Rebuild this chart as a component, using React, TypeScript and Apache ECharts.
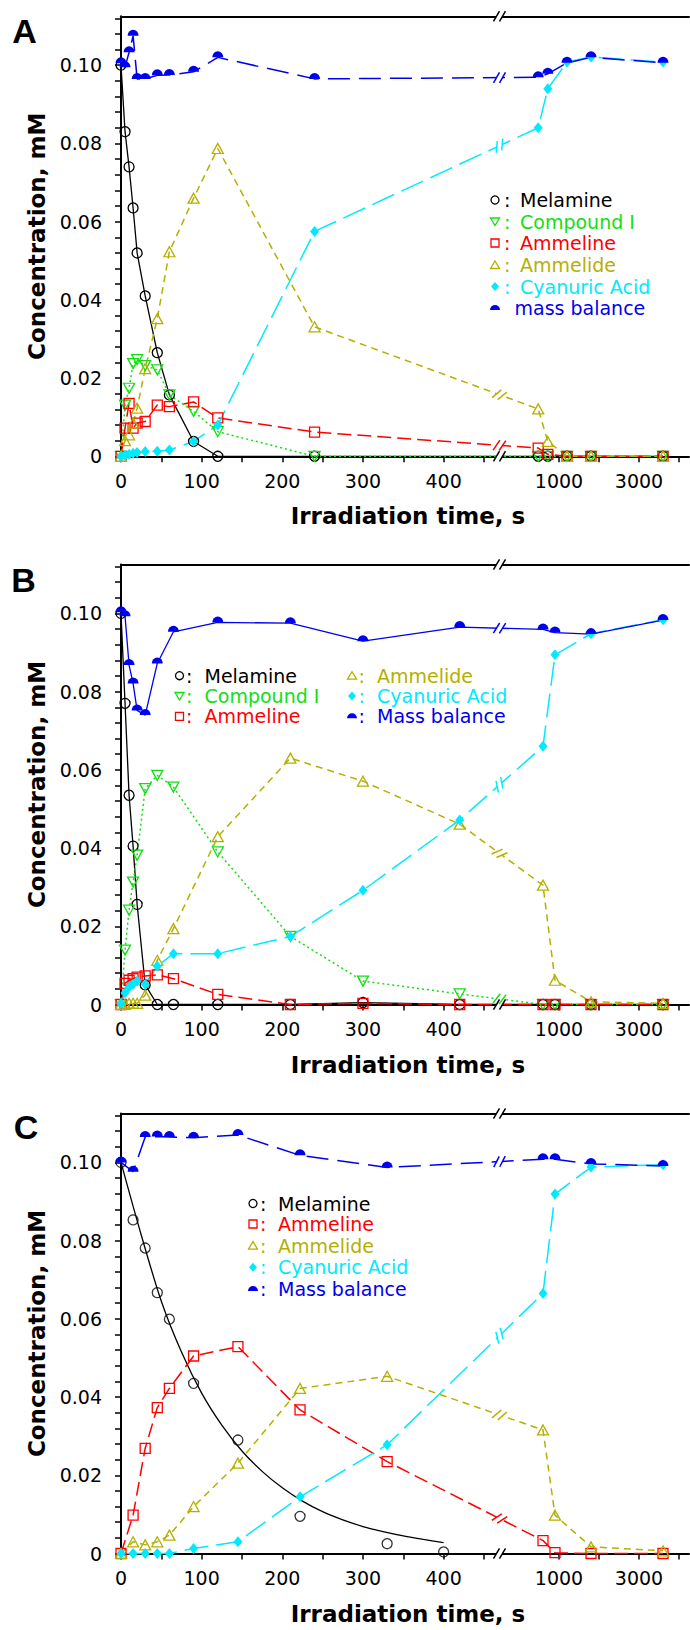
import React, { useEffect, useRef } from "react";
import * as echarts from "echarts";

// ---------------- data ----------------
// Panel A
const timesA = [0, 5, 10, 15, 20, 30, 45, 60, 90, 120, 240, 480, 720, 1200, 1800, 3600];
const melamineA = [0.1, 0.083, 0.074, 0.0635, 0.052, 0.041, 0.0265, 0.0157, 0.0038, 0, 0, 0, 0, 0, 0, 0];
const compoundA = [0, 0.0131, 0.0174, 0.0237, 0.0247, 0.0232, 0.0221, 0.0157, 0.0115, 0.0063, 0, 0, 0, 0, 0, 0];
const ammelineA = [0, 0.0072, 0.0135, 0.0072, 0.0085, 0.0089, 0.0131, 0.0127, 0.0139, 0.0098, 0.0062, 0.0021, 0.0005, 0, 0, 0];
const ammelideA = [0, 0.004, 0.0055, 0.0085, 0.0123, 0.0224, 0.0352, 0.0523, 0.066, 0.0787, 0.0331, 0.0121, 0.0038, 0, 0, 0];
const cyanuricA = [0, 0.0003, 0.0005, 0.0008, 0.001, 0.0012, 0.0013, 0.0016, 0.0038, 0.008, 0.0575, 0.084, 0.094, 0.1008, 0.1021, 0.1008];
const massA = [0.1005, 0.0995, 0.1033, 0.1075, 0.0965, 0.0965, 0.0974, 0.0975, 0.0983, 0.102, 0.0965, 0.0969, 0.0978, 0.1006, 0.102, 0.1006];

// Panel B
const timesB = [0, 5, 10, 15, 20, 30, 45, 65, 120, 210, 300, 420, 600, 900, 1800, 3600];
const melamineB = [0.1, 0.077, 0.0535, 0.0405, 0.0256, 0.005, 0, 0, 0, 0, 0.0005, 0, 0, 0, 0, 0];
const compoundB = [0, 0.0139, 0.0241, 0.0313, 0.0382, 0.0552, 0.0586, 0.0556, 0.039, 0.0174, 0.006, 0.0027, 0, 0, 0, 0];
const ammelineB = [0, 0.0054, 0.0062, 0.0066, 0.007, 0.0073, 0.0076, 0.0066, 0.0026, 0, 0.0003, 0, 0, 0, 0, 0];
const ammelideB = [0, 0, 0.0003, 0.0003, 0.0003, 0.0024, 0.0113, 0.0194, 0.0429, 0.063, 0.0571, 0.0461, 0.0305, 0.0062, 0.0007, 0.0003];
const cyanuricB = [0.0003, 0.003, 0.0045, 0.0052, 0.006, 0.0052, 0.0098, 0.013, 0.013, 0.0174, 0.0292, 0.0472, 0.066, 0.0894, 0.0948, 0.0984];
const massB = [0.1003, 0.0993, 0.0868, 0.0821, 0.0752, 0.074, 0.0872, 0.0953, 0.0977, 0.0975, 0.0929, 0.0965, 0.0959, 0.0951, 0.0947, 0.0983];

// Panel C
const timesC = [0, 15, 30, 45, 60, 90, 145, 222, 330, 600, 900, 1800, 3600];
const melamineTimesC = [0, 15, 30, 45, 60, 90, 145, 222, 330, 400];
const melamineC = [0.1, 0.0853, 0.0781, 0.0667, 0.0599, 0.0435, 0.029, 0.0095, 0.0025, 0.0004];
const ammelineC = [0, 0.0098, 0.0269, 0.0373, 0.0422, 0.0505, 0.0529, 0.0367, 0.0235, 0.0033, 0.0002, 0, 0];
const ammelideC = [0, 0.003, 0.0022, 0.003, 0.0047, 0.012, 0.0231, 0.0422, 0.0453, 0.0316, 0.0098, 0.0017, 0.0007];
const cyanuricC = [0, 0, 0, 0, 0, 0.0013, 0.003, 0.0145, 0.0278, 0.0665, 0.0919, 0.0988, 0.0994];
const massC = [0.1, 0.0976, 0.1065, 0.1066, 0.1065, 0.1063, 0.107, 0.1018, 0.0987, 0.1008, 0.1008, 0.0996, 0.0991];
// fitted melamine decay curve of panel C
const fitTimesC = [0, 25, 50, 75, 100, 125, 150, 175, 200, 225, 250, 275, 300, 325, 350, 375, 400];
const fitC = [0.1, 0.0815, 0.0645, 0.0515, 0.041, 0.0328, 0.0262, 0.021, 0.0168, 0.0134, 0.0107, 0.0086, 0.0069, 0.0056, 0.0045, 0.0036, 0.0028];

// tick values
const xLabelTimes = [0, 100, 200, 300, 400, 1000, 3000];
const xTickTimes = [0, 50, 100, 150, 200, 250, 300, 350, 400, 450, 1000, 2000, 3000, 4000];
const yLabelValues = [0, 0.02, 0.04, 0.06, 0.08, 0.1];
const yTickValues = [0, 0.004, 0.008, 0.012, 0.016, 0.02, 0.024, 0.028, 0.032, 0.036, 0.04, 0.044, 0.048, 0.052, 0.056, 0.06, 0.064, 0.068, 0.072, 0.076, 0.08, 0.084, 0.088, 0.092, 0.096, 0.1, 0.104, 0.108, 0.112];

// ---------------- layout / style ----------------
const BLACK = "#000000";
const GREEN = "#12df12";
const RED = "#ff0000";
const OLIVE = "#b5b000";
const CYAN = "#00eaff";
const BLUE = "#0000f0";

const GRID_LEFT = 121;
const GRID_WIDTH = 568;
const GRID_HEIGHT = 440;
const GRID_TOPS = [16.3, 564.5, 1113.5];
const Y_MAX = 0.1125;

// broken time axis: linear left part, compressed linear right part
const PX_PER_S = 0.8065;
const BREAK_T = 470;
const RIGHT_ORIGIN_PX = 398;
const RIGHT_PX_PER_S = 0.04;
const P_MAX = GRID_WIDTH / PX_PER_S;
const BREAK_P = (499.5 - GRID_LEFT) / PX_PER_S;
function pos(t: number): number {
  return t <= BREAK_T ? t : (RIGHT_ORIGIN_PX + RIGHT_PX_PER_S * t) / PX_PER_S;
}
function invPos(p: number): number {
  return p <= BREAK_T ? p : (p * PX_PER_S - RIGHT_ORIGIN_PX) / RIGHT_PX_PER_S;
}

const FONT = "DejaVu Sans";

type Kind = "circle" | "down" | "square" | "up" | "diamond" | "dome";
type Spec = {
  name: string;
  times: number[];
  vals: number[];
  kind: Kind | null;
  color: string;
  dash: number[] | "solid" | null;
  smooth?: boolean;
};

const panels: { letter: string; letterPos: [number, number]; series: Spec[] }[] = [
  {
    letter: "A",
    letterPos: [24.5, 31],
    series: [
      { name: "Melamine", times: timesA, vals: melamineA, kind: "circle", color: BLACK, dash: "solid" },
      { name: "Compound I", times: timesA, vals: compoundA, kind: "down", color: GREEN, dash: [2, 3] },
      { name: "Ammeline", times: timesA, vals: ammelineA, kind: "square", color: RED, dash: [14, 6] },
      { name: "Ammelide", times: timesA, vals: ammelideA, kind: "up", color: OLIVE, dash: [7, 5] },
      { name: "Cyanuric Acid", times: timesA, vals: cyanuricA, kind: "diamond", color: CYAN, dash: [24, 8] },
      { name: "mass balance", times: timesA, vals: massA, kind: "dome", color: BLUE, dash: [22, 9] },
    ],
  },
  {
    letter: "B",
    letterPos: [23.5, 579.5],
    series: [
      { name: "Melamine", times: timesB, vals: melamineB, kind: "circle", color: BLACK, dash: "solid" },
      { name: "Compound I", times: timesB, vals: compoundB, kind: "down", color: GREEN, dash: [2, 3] },
      { name: "Ammeline", times: timesB, vals: ammelineB, kind: "square", color: RED, dash: [14, 6] },
      { name: "Ammelide", times: timesB, vals: ammelideB, kind: "up", color: OLIVE, dash: [7, 5] },
      { name: "Cyanuric Acid", times: timesB, vals: cyanuricB, kind: "diamond", color: CYAN, dash: [24, 8] },
      { name: "Mass balance", times: timesB, vals: massB, kind: "dome", color: BLUE, dash: "solid" },
    ],
  },
  {
    letter: "C",
    letterPos: [26, 1127],
    series: [
      { name: "Melamine fit", times: fitTimesC, vals: fitC, kind: null, color: BLACK, dash: "solid", smooth: true },
      { name: "Melamine", times: melamineTimesC, vals: melamineC, kind: "circle", color: BLACK, dash: null },
      { name: "Ammeline", times: timesC, vals: ammelineC, kind: "square", color: RED, dash: [14, 6] },
      { name: "Ammelide", times: timesC, vals: ammelideC, kind: "up", color: OLIVE, dash: [7, 5] },
      { name: "Cyanuric Acid", times: timesC, vals: cyanuricC, kind: "diamond", color: CYAN, dash: [24, 8] },
      { name: "Mass balance", times: timesC, vals: massC, kind: "dome", color: BLUE, dash: [22, 9] },
    ],
  },
];

type LegendItem = { kind: Kind; color: string; label: string; mx: number; cx: number | null; tx: number; y: number };
const legends: LegendItem[][] = [
  [
    { kind: "circle", color: BLACK, label: "Melamine", mx: 495, cx: 504, tx: 520, y: 200 },
    { kind: "down", color: GREEN, label: "Compound I", mx: 495, cx: 504, tx: 520, y: 221.5 },
    { kind: "square", color: RED, label: "Ammeline", mx: 495, cx: 504, tx: 520, y: 243 },
    { kind: "up", color: OLIVE, label: "Ammelide", mx: 495, cx: 504, tx: 520, y: 265 },
    { kind: "diamond", color: CYAN, label: "Cyanuric Acid", mx: 495, cx: 504, tx: 520, y: 286.5 },
    { kind: "dome", color: BLUE, label: "mass balance", mx: 495, cx: null, tx: 514.5, y: 308 },
  ],
  [
    { kind: "circle", color: BLACK, label: "Melamine", mx: 179.5, cx: 186, tx: 204.5, y: 675.7 },
    { kind: "down", color: GREEN, label: "Compound I", mx: 179.5, cx: 186, tx: 204.5, y: 696 },
    { kind: "square", color: RED, label: "Ammeline", mx: 179.5, cx: 186, tx: 204.5, y: 716.3 },
    { kind: "up", color: OLIVE, label: "Ammelide", mx: 352, cx: 358.5, tx: 377, y: 675.7 },
    { kind: "diamond", color: CYAN, label: "Cyanuric Acid", mx: 352, cx: 358.5, tx: 377, y: 696 },
    { kind: "dome", color: BLUE, label: "Mass balance", mx: 352, cx: 358.5, tx: 377, y: 716.3 },
  ],
  [
    { kind: "circle", color: BLACK, label: "Melamine", mx: 253, cx: 260, tx: 278, y: 1203.5 },
    { kind: "square", color: RED, label: "Ammeline", mx: 253, cx: 260, tx: 278, y: 1224 },
    { kind: "up", color: OLIVE, label: "Ammelide", mx: 253, cx: 260, tx: 278, y: 1245.6 },
    { kind: "diamond", color: CYAN, label: "Cyanuric Acid", mx: 253, cx: 260, tx: 278, y: 1267.3 },
    { kind: "dome", color: BLUE, label: "Mass balance", mx: 253, cx: 260, tx: 278, y: 1289 },
  ],
];

function symbolFor(kind: Kind, color: string): any {
  const hollow = { color: "rgba(255,255,255,0)", borderColor: color, borderWidth: 1.3 };
  switch (kind) {
    case "circle":
      return { symbol: "circle", symbolSize: 10, itemStyle: hollow };
    case "down":
      return { symbol: "path://M0,0L12,0L6,10Z", symbolSize: [11, 10], itemStyle: hollow };
    case "square":
      return { symbol: "rect", symbolSize: 10, itemStyle: hollow };
    case "up":
      return { symbol: "triangle", symbolSize: [11, 10], itemStyle: hollow };
    case "diamond":
      return { symbol: "diamond", symbolSize: [9, 11], itemStyle: { color, borderWidth: 0 } };
    case "dome":
      return {
        symbol: "path://M0,10A10,10,0,0,1,20,10Z",
        symbolSize: [11, 6],
        symbolOffset: [0, -3],
        itemStyle: { color, borderWidth: 0 },
      };
  }
}

function markerGraphic(kind: Kind, color: string, x: number, y: number): any {
  const hollow = { fill: "none", stroke: color, lineWidth: 1.3 };
  switch (kind) {
    case "circle":
      return { type: "circle", shape: { cx: x, cy: y, r: 4 }, style: hollow };
    case "down":
      return { type: "polygon", shape: { points: [[x - 4.5, y - 3.5], [x + 4.5, y - 3.5], [x, y + 4]] }, style: hollow };
    case "square":
      return { type: "rect", shape: { x: x - 4, y: y - 4, width: 8, height: 8 }, style: hollow };
    case "up":
      return { type: "polygon", shape: { points: [[x - 4.5, y + 3.5], [x + 4.5, y + 3.5], [x, y - 4]] }, style: hollow };
    case "diamond":
      return { type: "polygon", shape: { points: [[x, y - 4.5], [x + 4, y], [x, y + 4.5], [x - 4, y]] }, style: { fill: color } };
    case "dome":
      return {
        type: "sector",
        shape: { cx: x, cy: y + 2, r: 5, r0: 0, startAngle: Math.PI, endAngle: Math.PI * 2 },
        style: { fill: color },
      };
  }
}

function breakMark(xc: number, yc: number, th: number, color: string): any[] {
  const ux = Math.cos(th);
  const uy = Math.sin(th);
  const a = th - Math.PI / 3;
  const dx = Math.cos(a);
  const dy = Math.sin(a);
  const s = 3;
  const L = 6;
  const G = 4;
  const c1 = [xc - s * ux, yc - s * uy];
  const c2 = [xc + s * ux, yc + s * uy];
  return [
    {
      type: "polygon",
      z: 100,
      shape: {
        points: [
          [c1[0] - G * dx, c1[1] - G * dy],
          [c1[0] + G * dx, c1[1] + G * dy],
          [c2[0] + G * dx, c2[1] + G * dy],
          [c2[0] - G * dx, c2[1] - G * dy],
        ],
      },
      style: { fill: "#ffffff" },
    },
    {
      type: "line",
      z: 101,
      shape: { x1: c1[0] - L * dx, y1: c1[1] - L * dy, x2: c1[0] + L * dx, y2: c1[1] + L * dy },
      style: { stroke: color, lineWidth: 1.5 },
    },
    {
      type: "line",
      z: 101,
      shape: { x1: c2[0] - L * dx, y1: c2[1] - L * dy, x2: c2[0] + L * dx, y2: c2[1] + L * dy },
      style: { stroke: color, lineWidth: 1.5 },
    },
  ];
}

function buildOption(): any {
  const grid: any[] = [];
  const xAxis: any[] = [];
  const yAxis: any[] = [];
  const series: any[] = [];
  const axisLineStyle = { color: BLACK, width: 2 };
  const labelStyle = { color: BLACK, fontSize: 19, fontFamily: FONT };

  panels.forEach((panel, gi) => {
    grid.push({
      left: GRID_LEFT,
      top: GRID_TOPS[gi],
      width: GRID_WIDTH,
      height: GRID_HEIGHT,
      show: false,
      containLabel: false,
      outerBoundsMode: "none",
    });
    xAxis.push({
      type: "value",
      gridIndex: gi,
      position: "bottom",
      min: 0,
      max: P_MAX,
      axisLine: { show: true, onZero: false, lineStyle: axisLineStyle },
      axisTick: {
        show: true,
        inside: false,
        length: 6,
        customValues: xTickTimes.map(pos),
        lineStyle: { color: BLACK, width: 1.5 },
      },
      axisLabel: {
        show: true,
        customValues: xLabelTimes.map(pos),
        formatter: (v: number) => {
          const t = invPos(v);
          return String(t > BREAK_T ? Math.round(t / 100) * 100 : Math.round(t));
        },
        margin: 15,
        ...labelStyle,
      },
      splitLine: { show: false },
    });
    xAxis.push({
      type: "value",
      gridIndex: gi,
      position: "top",
      min: 0,
      max: P_MAX,
      axisLine: { show: true, onZero: false, lineStyle: axisLineStyle },
      axisTick: { show: false },
      axisLabel: { show: false },
      splitLine: { show: false },
    });
    yAxis.push({
      type: "value",
      gridIndex: gi,
      position: "left",
      min: 0,
      max: Y_MAX,
      axisLine: { show: true, onZero: false, lineStyle: axisLineStyle },
      axisTick: {
        show: true,
        inside: false,
        length: 6,
        customValues: yTickValues,
        lineStyle: { color: BLACK, width: 1.5 },
      },
      axisLabel: {
        show: true,
        customValues: yLabelValues,
        formatter: (v: number) => (v === 0 ? "0" : v.toFixed(2)),
        margin: 19,
        ...labelStyle,
      },
      splitLine: { show: false },
    });

    panel.series.forEach((s) => {
      const sym = s.kind ? symbolFor(s.kind, s.color) : { symbol: "none", showSymbol: false };
      const data = s.times.map((t, i) => [pos(t), s.vals[i]]);
      if (s.dash === null) {
        series.push({
          type: "scatter",
          name: s.name,
          xAxisIndex: gi * 2,
          yAxisIndex: gi,
          data,
          ...sym,
          z: 3,
        });
      } else {
        series.push({
          type: "line",
          name: s.name,
          xAxisIndex: gi * 2,
          yAxisIndex: gi,
          data,
          ...sym,
          smooth: s.smooth ? 0.3 : false,
          lineStyle: { color: s.color, width: s.dash === "solid" ? 1.3 : 1.5, type: s.dash },
          clip: false,
          z: 3,
        });
      }
    });
  });

  return {
    animation: false,
    backgroundColor: "#ffffff",
    grid,
    xAxis,
    yAxis,
    series,
  };
}

function staticGraphics(): any[] {
  const els: any[] = [];
  panels.forEach((panel, gi) => {
    const top = GRID_TOPS[gi];
    const bottom = top + GRID_HEIGHT;
    els.push({
      type: "text",
      x: panel.letterPos[0],
      y: panel.letterPos[1],
      style: {
        text: panel.letter,
        fill: BLACK,
        font: 'bold 34px "Liberation Sans", Arial, sans-serif',
        align: "center",
        verticalAlign: "middle",
      },
    });
    els.push({
      type: "text",
      x: 37,
      y: (top + bottom) / 2,
      rotation: Math.PI / 2,
      style: {
        text: "Concentration, mM",
        fill: BLACK,
        font: 'bold 23px "DejaVu Sans"',
        align: "center",
        verticalAlign: "middle",
      },
    });
    els.push({
      type: "text",
      x: 408,
      y: bottom + 60,
      style: {
        text: "Irradiation time, s",
        fill: BLACK,
        font: 'bold 23px "DejaVu Sans"',
        align: "center",
        verticalAlign: "middle",
      },
    });
    legends[gi].forEach((it) => {
      els.push(markerGraphic(it.kind, it.color, it.mx, it.y));
      if (it.cx !== null) {
        els.push({
          type: "text",
          x: it.cx,
          y: it.y,
          style: { text: ":", fill: it.color, font: '19px "DejaVu Sans"', align: "left", verticalAlign: "middle" },
        });
      }
      els.push({
        type: "text",
        x: it.tx,
        y: it.y,
        style: { text: it.label, fill: it.color, font: '19px "DejaVu Sans"', align: "left", verticalAlign: "middle" },
      });
    });
  });
  return els;
}

export default function App() {
  const ref = useRef<HTMLDivElement>(null);
  useEffect(() => {
    if (!ref.current) return;
    const chart = echarts.init(ref.current, null, { renderer: "svg" });
    chart.setOption(buildOption());

    const breaks: any[] = [];
    panels.forEach((panel, gi) => {
      const conv = (p: number, v: number) =>
        chart.convertToPixel({ xAxisIndex: gi * 2, yAxisIndex: gi } as any, [p, v]) as number[];
      const base = conv(BREAK_P, 0);
      const topPt = conv(BREAK_P, Y_MAX);
      const xb = base[0];
      breaks.push(...breakMark(xb, base[1], 0, BLACK));
      breaks.push(...breakMark(xb, topPt[1], 0, BLACK));
      panel.series.forEach((s) => {
        if (s.dash === null) return;
        for (let i = 0; i < s.times.length - 1; i++) {
          if (s.times[i] <= BREAK_T && s.times[i + 1] > BREAK_T) {
            if (s.vals[i] === 0 && s.vals[i + 1] === 0) continue;
            const a = conv(pos(s.times[i]), s.vals[i]);
            const b = conv(pos(s.times[i + 1]), s.vals[i + 1]);
            const f = (xb - a[0]) / (b[0] - a[0]);
            const yb = a[1] + f * (b[1] - a[1]);
            const th = Math.atan2(b[1] - a[1], b[0] - a[0]);
            breaks.push(...breakMark(xb, yb, th, s.color));
          }
        }
      });
    });

    chart.setOption({ graphic: { elements: [...staticGraphics(), ...breaks] } });
    return () => chart.dispose();
  }, []);

  return (
    <div
      ref={ref}
      style={{ position: "absolute", left: 0, top: 0, width: 690, height: 1630, background: "#fff" }}
    />
  );
}
